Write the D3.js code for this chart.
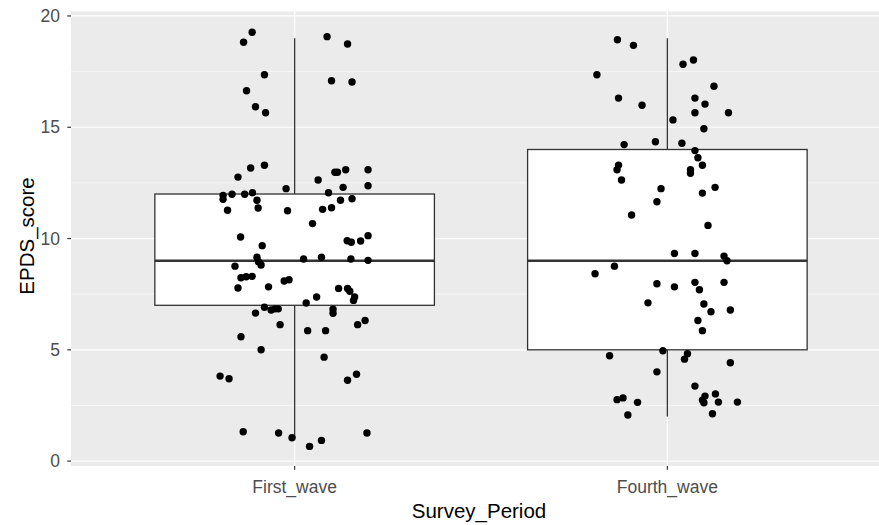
<!DOCTYPE html>
<html lang="en">
<head>
  <meta charset="utf-8">
  <title>EPDS_score by Survey_Period</title>
  <script src="https://cdn.jsdelivr.net/npm/d3@7"></script>
  <style>
    body { margin: 0; background: #fff; overflow: hidden; }
    svg { display: block; font-family: "Liberation Sans", Arial, sans-serif; }
    .tick-label { fill: #4d4d4d; font-size: 17.5px; }
    .axis-title { fill: #000; font-size: 20.5px; }
  </style>
</head>
<body>
  <svg id="chart" width="879" height="525"></svg>
  <script>
    const categories = ["First_wave", "Fourth_wave"];
    const yTicks = [0, 5, 10, 15, 20];
    const yMinor = [2.5, 7.5, 12.5, 17.5];

    // box stats: [lower whisker, Q1, median, Q3, upper whisker]
    const boxStats = [
      [1, 7, 9, 12, 19],
      [2, 5, 9, 14, 19]
    ];

    // jittered points: horizontal offset (category units) and score
    const firstJitter = [
      -0.114, -0.137, 0.087, 0.142, -0.081, 0.099, 0.154, -0.129, -0.105, -0.078,
      -0.081, -0.118, -0.152, 0.108, 0.115, 0.137, 0.197, 0.063, 0.130, 0.197,
      -0.023, -0.192, -0.192, -0.168, -0.134, -0.113, -0.101, 0.091, 0.154, 0.123,
      -0.180, -0.098, -0.019, 0.075, 0.099, 0.048, -0.145, -0.087, 0.141, 0.152,
      0.177, 0.197, -0.101, -0.097, -0.090, 0.024, 0.072, 0.151, 0.197, -0.160,
      -0.144, -0.130, -0.114, -0.152, -0.070, -0.028, -0.015, 0.118, 0.142, 0.148,
      0.161, 0.158, 0.059, 0.031, -0.081, -0.063, -0.053, -0.044, -0.105, 0.103,
      0.103, 0.189, 0.169, -0.039, 0.035, 0.083, -0.144, -0.090, 0.079, -0.200,
      -0.176, 0.142, 0.166, -0.138, -0.043, -0.007, 0.040, 0.072, 0.194
    ];
    const firstScore = [
      19.27, 18.82, 19.07, 18.74, 17.36, 17.09, 17.03, 16.64, 15.92, 15.65,
      13.29, 13.17, 12.76, 12.98, 12.98, 13.09, 13.09, 12.63, 12.30, 12.37,
      12.24, 11.94, 11.76, 11.99, 11.99, 12.06, 11.72, 12.06, 11.79, 11.72,
      11.27, 11.37, 11.25, 11.31, 11.38, 10.67, 10.07, 9.68, 9.90, 9.83,
      9.89, 10.13, 9.16, 8.96, 8.81, 9.08, 9.16, 9.08, 9.02, 8.76,
      8.24, 8.28, 8.30, 7.78, 7.83, 8.09, 8.15, 7.76, 7.76, 7.63,
      7.37, 7.22, 7.37, 7.10, 6.91, 6.79, 6.84, 6.84, 6.65, 6.82,
      6.64, 6.32, 6.13, 6.13, 5.86, 5.86, 5.59, 5.00, 4.67, 3.82,
      3.70, 3.63, 3.90, 1.32, 1.26, 1.05, 0.66, 0.93, 1.26
    ];
    const fourthJitter = [
      -0.134, -0.091, 0.070, 0.042, -0.189, 0.125, -0.131, 0.074, 0.101, -0.068,
      0.074, 0.164, 0.015, 0.098, -0.116, -0.032, 0.039, 0.074, 0.082, 0.094,
      -0.131, -0.135, 0.062, 0.062, -0.123, -0.017, 0.128, 0.094, -0.028, -0.096,
      0.109, 0.019, 0.074, 0.152, 0.160, -0.142, -0.194, -0.028, 0.019, 0.074,
      0.086, 0.152, -0.052, 0.098, 0.117, 0.169, 0.082, 0.094, -0.012, -0.155,
      0.054, 0.046, 0.169, -0.028, 0.074, 0.129, 0.101, 0.094, 0.098, 0.137,
      0.188, 0.121, -0.135, -0.119, -0.080, -0.106
    ];
    const fourthScore = [
      18.93, 18.68, 18.02, 17.83, 17.36, 16.84, 16.31, 16.31, 16.04, 15.99,
      15.65, 15.65, 15.33, 14.93, 14.22, 14.35, 14.28, 13.95, 13.63, 13.29,
      13.30, 13.09, 13.09, 12.93, 12.63, 12.24, 12.30, 12.04, 11.65, 11.06,
      10.59, 9.33, 9.33, 9.21, 9.00, 8.76, 8.42, 7.97, 7.83, 8.03,
      7.70, 8.03, 7.11, 7.06, 6.71, 6.79, 6.32, 5.86, 4.96, 4.73,
      4.82, 4.58, 4.42, 4.01, 3.37, 3.02, 2.92, 2.74, 2.62, 2.65,
      2.65, 2.13, 2.76, 2.84, 2.64, 2.07
    ];

    const points = [];
    firstJitter.forEach((j, i) => points.push({ pos: 1 + j, v: firstScore[i] }));
    fourthJitter.forEach((j, i) => points.push({ pos: 2 + j, v: fourthScore[i] }));

    const svg = d3.select("#chart");
    const panel = { left: 71, right: 891, top: 11.5, bottom: 466 };

    const x = d3.scaleLinear().domain([0.4, 2.6]).range([panel.left, panel.right]);
    const y = d3.scaleLinear().domain([-0.22, 20.2]).range([panel.bottom, panel.top]);
    const boxHalf = 0.375;

    // panel background
    svg.append("rect")
      .attr("x", panel.left).attr("y", panel.top)
      .attr("width", panel.right - panel.left).attr("height", panel.bottom - panel.top)
      .attr("fill", "#ebebeb");

    const grid = svg.append("g");
    grid.selectAll("line.minor").data(yMinor).enter().append("line")
      .attr("x1", panel.left).attr("x2", panel.right)
      .attr("y1", d => y(d)).attr("y2", d => y(d))
      .attr("stroke", "#fff").attr("stroke-width", 0.6);
    grid.selectAll("line.major").data(yTicks).enter().append("line")
      .attr("x1", panel.left).attr("x2", panel.right)
      .attr("y1", d => y(d)).attr("y2", d => y(d))
      .attr("stroke", "#fff").attr("stroke-width", 1.2);
    grid.selectAll("line.vmajor").data(categories).enter().append("line")
      .attr("x1", (d, i) => x(i + 1)).attr("x2", (d, i) => x(i + 1))
      .attr("y1", panel.top).attr("y2", panel.bottom)
      .attr("stroke", "#fff").attr("stroke-width", 1.2);

    // boxplots
    const box = svg.append("g").selectAll("g").data(boxStats).enter().append("g");
    box.append("line")
      .attr("x1", (d, i) => x(i + 1)).attr("x2", (d, i) => x(i + 1))
      .attr("y1", d => y(d[3])).attr("y2", d => y(d[4]))
      .attr("stroke", "#333").attr("stroke-width", 1.3);
    box.append("line")
      .attr("x1", (d, i) => x(i + 1)).attr("x2", (d, i) => x(i + 1))
      .attr("y1", d => y(d[0])).attr("y2", d => y(d[1]))
      .attr("stroke", "#333").attr("stroke-width", 1.3);
    box.append("rect")
      .attr("x", (d, i) => x(i + 1 - boxHalf))
      .attr("width", (d, i) => x(i + 1 + boxHalf) - x(i + 1 - boxHalf))
      .attr("y", d => y(d[3]))
      .attr("height", d => y(d[1]) - y(d[3]))
      .attr("fill", "#fff").attr("stroke", "#333").attr("stroke-width", 1.3);
    box.append("line")
      .attr("x1", (d, i) => x(i + 1 - boxHalf)).attr("x2", (d, i) => x(i + 1 + boxHalf))
      .attr("y1", d => y(d[2])).attr("y2", d => y(d[2]))
      .attr("stroke", "#333").attr("stroke-width", 2.4);

    // jittered points
    svg.append("g").selectAll("circle").data(points).enter().append("circle")
      .attr("cx", d => x(d.pos)).attr("cy", d => y(d.v))
      .attr("r", 3.7).attr("fill", "#000");

    // y axis
    const yAxis = svg.append("g");
    yAxis.selectAll("line").data(yTicks).enter().append("line")
      .attr("x1", panel.left - 3.7).attr("x2", panel.left)
      .attr("y1", d => y(d)).attr("y2", d => y(d))
      .attr("stroke", "#333").attr("stroke-width", 1.2);
    yAxis.selectAll("text").data(yTicks).enter().append("text")
      .attr("class", "tick-label")
      .attr("x", panel.left - 11).attr("y", d => y(d))
      .attr("dy", "0.35em").attr("text-anchor", "end")
      .text(d => d);

    // x axis
    const xAxis = svg.append("g");
    xAxis.selectAll("line").data(categories).enter().append("line")
      .attr("x1", (d, i) => x(i + 1)).attr("x2", (d, i) => x(i + 1))
      .attr("y1", panel.bottom).attr("y2", panel.bottom + 3.7)
      .attr("stroke", "#333").attr("stroke-width", 1.2);
    xAxis.selectAll("text").data(categories).enter().append("text")
      .attr("class", "tick-label")
      .attr("x", (d, i) => x(i + 1)).attr("y", 493)
      .attr("text-anchor", "middle")
      .text(d => d);

    svg.append("text").attr("class", "axis-title")
      .attr("x", 479).attr("y", 517.5)
      .attr("text-anchor", "middle")
      .text("Survey_Period");
    svg.append("text").attr("class", "axis-title")
      .attr("transform", "translate(33.5,236) rotate(-90)")
      .attr("text-anchor", "middle")
      .text("EPDS_score");
  </script>
</body>
</html>
